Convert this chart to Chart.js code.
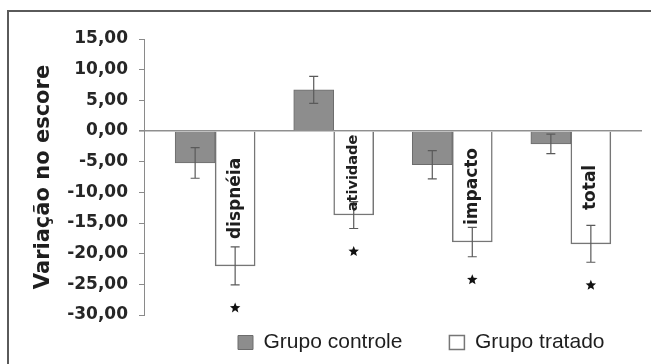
<!DOCTYPE html>
<html>
<head>
<meta charset="utf-8">
<script src="https://cdn.jsdelivr.net/npm/chart.js@4/dist/chart.umd.min.js"></script>
<style>
  html, body { margin: 0; padding: 0; background: #ffffff; }
  canvas { display: block; }
</style>
</head>
<body>
<canvas id="chart" width="651" height="364"></canvas>
<script>
// Score change per questionnaire domain, control vs treated group
const categories   = ['dispnéia', 'atividade', 'impacto', 'total'];
const seriesNames  = ['Grupo controle', 'Grupo tratado'];
const controle     = [-5.2, 6.7, -5.5, -2.1];
const controleErro = [2.5, 2.2, 2.3, 1.6];
const tratado      = [-22.0, -13.7, -18.1, -18.4];
const tratadoErro  = [3.1, 2.2, 2.4, 3.0];
const significativo = [true, true, true, true];
const yTicks = [15, 10, 5, 0, -5, -10, -15, -20, -25, -30];
const yTitle = 'Variação no escore';

const AXIS_GREY = '#8a8a8a';
const TEXT = '#1e1e1e';

// category i sits at x = i + 1 on a linear index axis
const toPoints = vals => vals.map((v, i) => ({ x: i + 1, y: v }));

function drawStar(ctx, cx, cy, rOut, rIn) {
  ctx.beginPath();
  for (let k = 0; k < 10; k++) {
    const r = k % 2 === 0 ? rOut : rIn;
    const a = -Math.PI / 2 + k * Math.PI / 5;
    const px = cx + r * Math.cos(a), py = cy + r * Math.sin(a);
    if (k === 0) ctx.moveTo(px, py); else ctx.lineTo(px, py);
  }
  ctx.closePath();
  ctx.fill();
}

const decorations = {
  id: 'decorations',
  afterLayout(chart) {
    // place the legend row below the plot, with wide spacing between items
    const lg = chart.legend;
    const pad = chart.options.plugins.legend.labels.padding;
    lg.left = 238 - pad; lg.width = 600; lg.right = lg.left + lg.width;
    lg.top = 332 - pad; lg.bottom = chart.height; lg.height = lg.bottom - lg.top;
  },
  beforeDraw(chart) {
    const ctx = chart.ctx;
    ctx.save();
    ctx.strokeStyle = '#5a5a5a';
    ctx.lineWidth = 2;
    ctx.beginPath();
    ctx.moveTo(8, 364);
    ctx.lineTo(8, 11);
    ctx.lineTo(651, 11);
    ctx.stroke();
    ctx.restore();
  },
  afterDatasetsDraw(chart) {
    const ctx = chart.ctx;
    const y = chart.scales.y;
    const zeroPx = y.getPixelForValue(0);
    const groups = [[controle, controleErro, 0], [tratado, tratadoErro, 1]];
    ctx.save();
    groups.forEach(([vals, errs, di]) => {
      const meta = chart.getDatasetMeta(di);
      meta.data.forEach((bar, i) => {
        const cx = bar.x;
        const yHi = y.getPixelForValue(vals[i] + errs[i]);
        const yLo = y.getPixelForValue(vals[i] - errs[i]);
        // error bar
        ctx.strokeStyle = '#5a5a5a';
        ctx.lineWidth = 1.2;
        ctx.beginPath();
        ctx.moveTo(cx, yHi); ctx.lineTo(cx, yLo);
        ctx.moveTo(cx - 4.5, yHi); ctx.lineTo(cx + 4.5, yHi);
        ctx.moveTo(cx - 4.5, yLo); ctx.lineTo(cx + 4.5, yLo);
        ctx.stroke();
        if (di === 1) {
          // domain name written vertically inside the treated bar
          const size = categories[i] === 'atividade' ? 14.5 : 17;
          ctx.save();
          ctx.translate(cx, (zeroPx + bar.y) / 2);
          ctx.rotate(-Math.PI / 2);
          ctx.font = 'bold ' + size + 'px "DejaVu Sans"';
          ctx.fillStyle = TEXT;
          ctx.textAlign = 'center';
          ctx.textBaseline = 'middle';
          ctx.fillText(categories[i], 0, 0);
          ctx.restore();
          // significance marker under the error bar
          if (significativo[i]) {
            ctx.fillStyle = '#111111';
            drawStar(ctx, cx, yLo + 23, 5.5, 2.4);
          }
        }
      });
    });
    ctx.restore();
  }
};

new Chart(document.getElementById('chart'), {
  type: 'bar',
  data: {
    datasets: [
      {
        label: seriesNames[0],
        data: toPoints(controle),
        backgroundColor: '#8d8d8d',
        borderColor: '#6c6c6c',
        borderWidth: 1
      },
      {
        label: seriesNames[1],
        data: toPoints(tratado),
        backgroundColor: '#ffffff',
        borderColor: '#767676',
        borderWidth: 1.5
      }
    ]
  },
  options: {
    responsive: false,
    animation: false,
    events: [],
    barThickness: 40,
    layout: { padding: { left: 20, right: 9, top: 39, bottom: 19 } },
    scales: {
      x: {
        type: 'linear',
        display: false,
        min: 0.4,
        max: 4.6,
        offset: false
      },
      y: {
        min: -30,
        max: 15,
        afterBuildTicks: scale => { scale.ticks = yTicks.map(v => ({ value: v })); },
        afterFit: scale => { scale.width = 124; },
        border: { display: true, color: AXIS_GREY, width: 1 },
        grid: {
          color: c => (c.tick && c.tick.value === 0 ? '#8f8f8f' : 'rgba(0,0,0,0)'),
          lineWidth: c => (c.tick && c.tick.value === 0 ? 1.6 : 1),
          tickColor: AXIS_GREY,
          tickLength: 5,
          drawTicks: true
        },
        ticks: {
          padding: 11,
          color: '#262626',
          font: { family: '"DejaVu Sans"', size: 17, weight: 'bold' },
          callback: v => v.toFixed(2).replace('.', ',')
        },
        title: {
          display: true,
          text: yTitle,
          color: '#1e1e1e',
          font: { family: '"DejaVu Sans"', size: 21, weight: 'bold' },
          padding: { top: 11, bottom: 0 }
        }
      }
    },
    plugins: {
      tooltip: { enabled: false },
      legend: {
        position: 'bottom',
        align: 'start',
        maxHeight: 30,
        labels: {
          padding: 47,
          boxWidth: 15,
          boxHeight: 14,
          color: TEXT,
          font: { family: '"Liberation Sans", Arial, sans-serif', size: 21 }
        }
      }
    }
  },
  plugins: [decorations]
});
</script>
</body>
</html>
